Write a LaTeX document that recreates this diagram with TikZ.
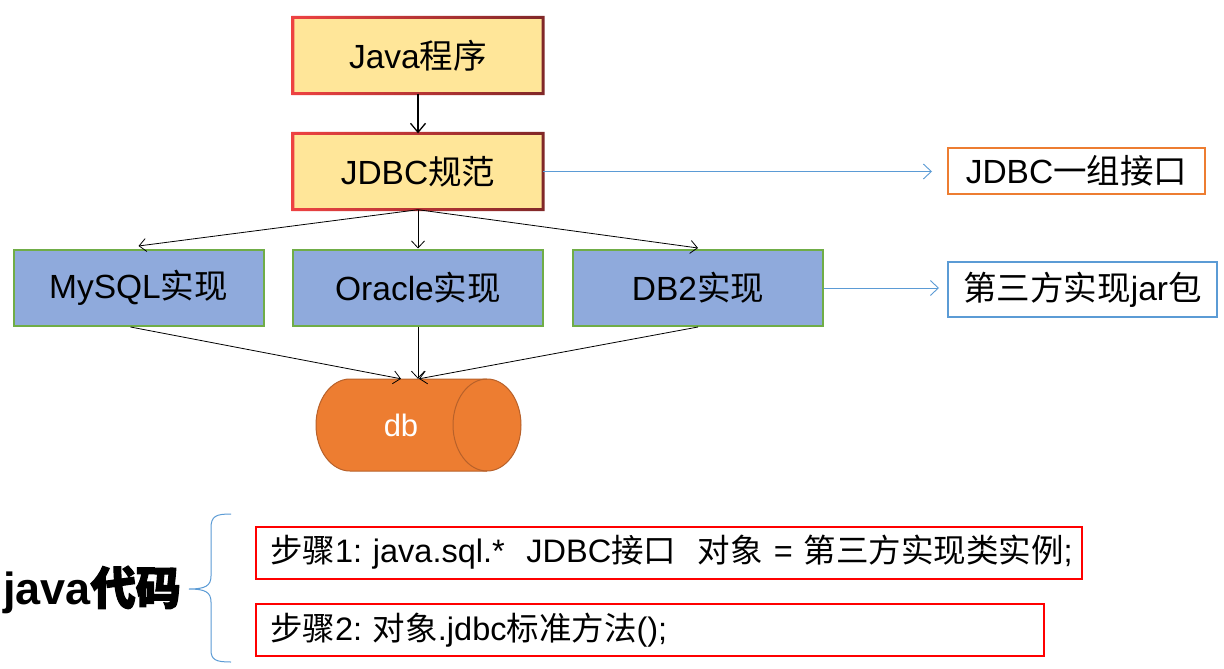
\documentclass[tikz,border=0pt]{standalone}
\usepackage{fontspec}
\setmainfont{Liberation Sans}
\newfontfamily\cjk{Noto Sans CJK SC}
\newfontfamily\cjkb[FakeBold=3]{Noto Sans CJK SC}
\newcommand\zh[1]{{\cjk #1}}
\newcommand\zhb[1]{{\cjkb #1}}
\usetikzlibrary{arrows.meta}
\definecolor{boxyellow}{HTML}{FFE699}
\definecolor{boxblue}{HTML}{8FAADC}
\definecolor{boxgreen}{HTML}{70AD47}
\definecolor{orangeb}{HTML}{ED7D31}
\definecolor{orangedark}{HTML}{B8612A}
\definecolor{lineblue}{HTML}{5B9BD5}
\definecolor{jred}{RGB}{238,66,66}
\definecolor{jdark}{RGB}{128,40,40}
\frenchspacing
\tikzset{
  ybox/.style={fill=boxyellow, minimum width=250pt, minimum height=76pt, inner sep=0pt, font=\fontsize{33.5}{40}\selectfont},
  bbox/.style={fill=boxblue, draw=boxgreen, line width=2pt, minimum width=250pt, minimum height=76pt, inner sep=0pt, font=\fontsize{33.5}{40}\selectfont},
  sidebox/.style={fill=white, line width=2pt, inner sep=0pt, font=\fontsize{33.5}{40}\selectfont},
  stepbox/.style={draw=red, line width=2pt, anchor=west, inner xsep=14pt, inner ysep=0pt, minimum height=52pt, align=left, font=\fontsize{32.5}{39}\selectfont},
  arr/.style={line width=1.3pt, -{Straight Barb[length=9pt,width=15pt,line width=1.3pt]}},
  thinarr/.style={line width=0.8pt, -{Straight Barb[length=7pt,width=13pt,line width=0.8pt]}},
  bluearr/.style={draw=lineblue, line width=0.9pt, -{Straight Barb[length=8pt,width=15pt,line width=0.9pt]}},
  brace/.style={draw=lineblue, line width=1pt},
}
\begin{document}
\begin{tikzpicture}[x=1pt,y=-1pt]
\useasboundingbox[fill=white] (0,0) rectangle (1224,669);

% top yellow boxes
\node[ybox] (java) at (418,55.5) {Java\zh{程序}};
\node[ybox] (jdbc) at (418,171.5) {JDBC\zh{规范}};
\foreach \n in {java,jdbc}{
  \shade[left color=jred, right color=jdark, even odd rule]
    ([shift={(-1.5pt,-1.5pt)}]\n.south west) rectangle ([shift={(1.5pt,1.5pt)}]\n.north east)
    ([shift={(1.5pt,1.5pt)}]\n.south west) rectangle ([shift={(-1.5pt,-1.5pt)}]\n.north east);
}

% implementation boxes
\node[bbox] (mysql) at (138.5,288) {MySQL\zh{实现}};
\node[bbox] (oracle) at (418,287.5) {Oracle\zh{实现}};
\node[bbox] (db2) at (698,288) {DB2\zh{实现}};

% side boxes
\node[sidebox, draw=orangeb, minimum width=257pt, minimum height=46pt] (iface) at (1076.5,171) {JDBC\zh{一组接口}};
\node[sidebox, draw=lineblue, minimum width=269pt, minimum height=55pt] (jar) at (1082.5,289.5) {\zh{第三方实现}jar\zh{包}};

% database cylinder
\fill[orangeb] (350,379) -- (487,379) arc[start angle=90, end angle=-90, x radius=34pt, y radius=46pt]
  -- (350,471) arc[start angle=270, end angle=90, x radius=34pt, y radius=46pt] -- cycle;
\draw[orangedark, line width=1pt] (350,379) -- (487,379) arc[start angle=90, end angle=-90, x radius=34pt, y radius=46pt]
  -- (350,471) arc[start angle=270, end angle=90, x radius=34pt, y radius=46pt] -- cycle;
\draw[orangedark, line width=1pt] (487,379) arc[start angle=90, end angle=270, x radius=34pt, y radius=46pt];
\node[minimum width=170pt, minimum height=92pt, inner sep=0pt, text=white, font=\fontsize{31}{37}\selectfont] (db) at (401,425) {db};

% connectors
\draw[arr] (java.south) -- (jdbc.north);
\draw[thinarr] (jdbc.south) -- ([yshift=3pt]mysql.north);
\draw[thinarr] (jdbc.south) -- (oracle.north);
\draw[thinarr] (jdbc.south) -- ([yshift=1pt]db2.north);
\draw[thinarr] ([xshift=-8pt]mysql.south) -- (db.north);
\draw[thinarr] (oracle.south) -- ([xshift=17pt]db.north);
\draw[thinarr] (db2.south) -- ([xshift=18pt]db.north);
\draw[bluearr, shorten >=15pt] (jdbc.east) -- (jdbc.east -| iface.west);
\draw[bluearr, shorten >=8pt] (db2.east) -- (db2.east -| jar.west);

% bottom part
\node[font=\fontsize{45}{51}\selectfont\bfseries, inner sep=0pt] (code) at (92,590) {java\zhb{代码}};
\draw[brace] (231,514) .. controls (216,514) and (211,516) .. (211,528) -- (211,576)
  .. controls (211,586) and (205,589) .. (189,589)
  .. controls (205,589) and (211,592) .. (211,602) -- (211,650)
  .. controls (211,660) and (216,662) .. (231,662);
\node[stepbox, text width=798pt] (s1) at (255,552.5) {\mbox{\zh{步骤}1: java.sql.*\ \ JDBC\zh{接口}\ \ \zh{对象} = \zh{第三方实现类实例};}};
\node[stepbox, text width=760pt] (s2) at (255,630) {\mbox{\zh{步骤}2: \zh{对象}.jdbc\zh{标准方法}();}};
\end{tikzpicture}
\end{document}
